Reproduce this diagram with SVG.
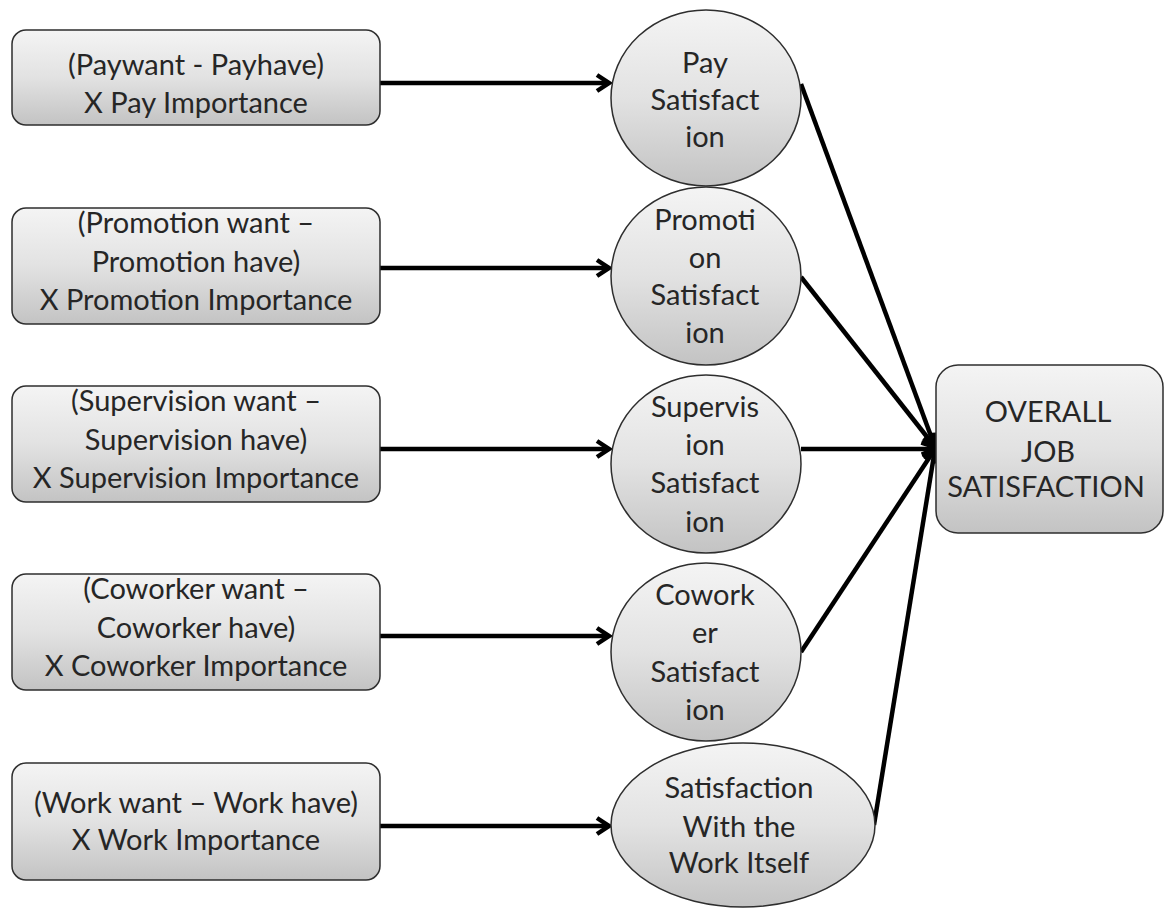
<svg xmlns="http://www.w3.org/2000/svg" width="1164" height="908" viewBox="0 0 1164 908">
<defs>
<linearGradient id="g" x1="0" y1="0" x2="0" y2="1">
<stop offset="0" stop-color="#f4f4f4"/>
<stop offset="0.5" stop-color="#e2e2e2"/>
<stop offset="1" stop-color="#c3c3c3"/>
</linearGradient>
<marker id="arr" markerUnits="userSpaceOnUse" markerWidth="18" markerHeight="20" viewBox="0 0 18 20" refX="15" refY="10" orient="auto">
<path d="M3,2 L15,10 L3,18" fill="none" stroke="#000" stroke-width="4.5"/>
</marker>
</defs>
<style>
.box{fill:url(#g);stroke:#2e2e2e;stroke-width:1.5}
.t{font-family:Lato,"Open Sans","Liberation Sans",sans-serif;font-size:29px;fill:#262626;text-anchor:middle}
.c{stroke:#000;stroke-width:4.5;fill:none;marker-end:url(#arr)}
</style>
<rect width="1164" height="908" fill="#fff"/>
<g id="connectors">
<line class="c" x1="380" y1="83" x2="609" y2="83"/>
<line class="c" x1="380" y1="268" x2="609" y2="268"/>
<line class="c" x1="380" y1="449" x2="609" y2="449"/>
<line class="c" x1="380" y1="636" x2="609" y2="636"/>
<line class="c" x1="380" y1="826" x2="609" y2="826"/>
<line class="c" x1="801" y1="84" x2="935" y2="447"/>
<line class="c" x1="801" y1="277" x2="935" y2="447"/>
<line class="c" x1="801" y1="449" x2="935" y2="449"/>
<line class="c" x1="801" y1="652" x2="935" y2="449"/>
<line class="c" x1="874" y1="825" x2="935" y2="449"/>
</g>
<g id="in-pay">
<rect class="box" x="12" y="30" width="368" height="95" rx="14"/>
<text class="t" x="196" y="75">(Paywant - Payhave)</text>
<text class="t" x="196" y="113">X Pay Importance</text>
</g>
<g id="in-promotion">
<rect class="box" x="12" y="208" width="368" height="116" rx="14"/>
<text class="t" x="196" y="233">(Promotion want –</text>
<text class="t" x="196" y="272">Promotion have)</text>
<text class="t" x="196" y="310">X Promotion Importance</text>
</g>
<g id="in-supervision">
<rect class="box" x="12" y="386" width="368" height="116" rx="14"/>
<text class="t" x="196" y="411">(Supervision want –</text>
<text class="t" x="196" y="450">Supervision have)</text>
<text class="t" x="196" y="488">X Supervision Importance</text>
</g>
<g id="in-coworker">
<rect class="box" x="12" y="574" width="368" height="116" rx="14"/>
<text class="t" x="196" y="599">(Coworker want –</text>
<text class="t" x="196" y="638">Coworker have)</text>
<text class="t" x="196" y="676">X Coworker Importance</text>
</g>
<g id="in-work">
<rect class="box" x="12" y="763" width="368" height="117" rx="14"/>
<text class="t" x="196" y="813">(Work want – Work have)</text>
<text class="t" x="196" y="850">X Work Importance</text>
</g>
<g id="pay-sat">
<ellipse class="box" cx="706" cy="98" rx="95" ry="88"/>
<text class="t" x="705" y="73">Pay</text>
<text class="t" x="705" y="110">Satisfact</text>
<text class="t" x="705" y="147">ion</text>
</g>
<g id="promotion-sat">
<ellipse class="box" cx="706" cy="276" rx="95" ry="89"/>
<text class="t" x="705" y="230">Promoti</text>
<text class="t" x="705" y="268">on</text>
<text class="t" x="705" y="305">Satisfact</text>
<text class="t" x="705" y="343">ion</text>
</g>
<g id="supervision-sat">
<ellipse class="box" cx="706" cy="464" rx="95" ry="89"/>
<text class="t" x="705" y="417">Supervis</text>
<text class="t" x="705" y="455">ion</text>
<text class="t" x="705" y="493">Satisfact</text>
<text class="t" x="705" y="532">ion</text>
</g>
<g id="coworker-sat">
<ellipse class="box" cx="706" cy="652" rx="95" ry="89"/>
<text class="t" x="705" y="605">Cowork</text>
<text class="t" x="705" y="643">er</text>
<text class="t" x="705" y="682">Satisfact</text>
<text class="t" x="705" y="720">ion</text>
</g>
<g id="work-sat">
<ellipse class="box" cx="743" cy="825" rx="132" ry="82"/>
<text class="t" x="739" y="798">Satisfaction</text>
<text class="t" x="739" y="837">With the</text>
<text class="t" x="739" y="873">Work Itself</text>
</g>
<g id="overall">
<rect class="box" x="936" y="365" width="227" height="168" rx="22"/>
<text class="t" x="1048" y="422">OVERALL</text>
<text class="t" x="1048" y="462">JOB</text>
<text class="t" x="1046" y="497">SATISFACTION</text>
</g>
</svg>
